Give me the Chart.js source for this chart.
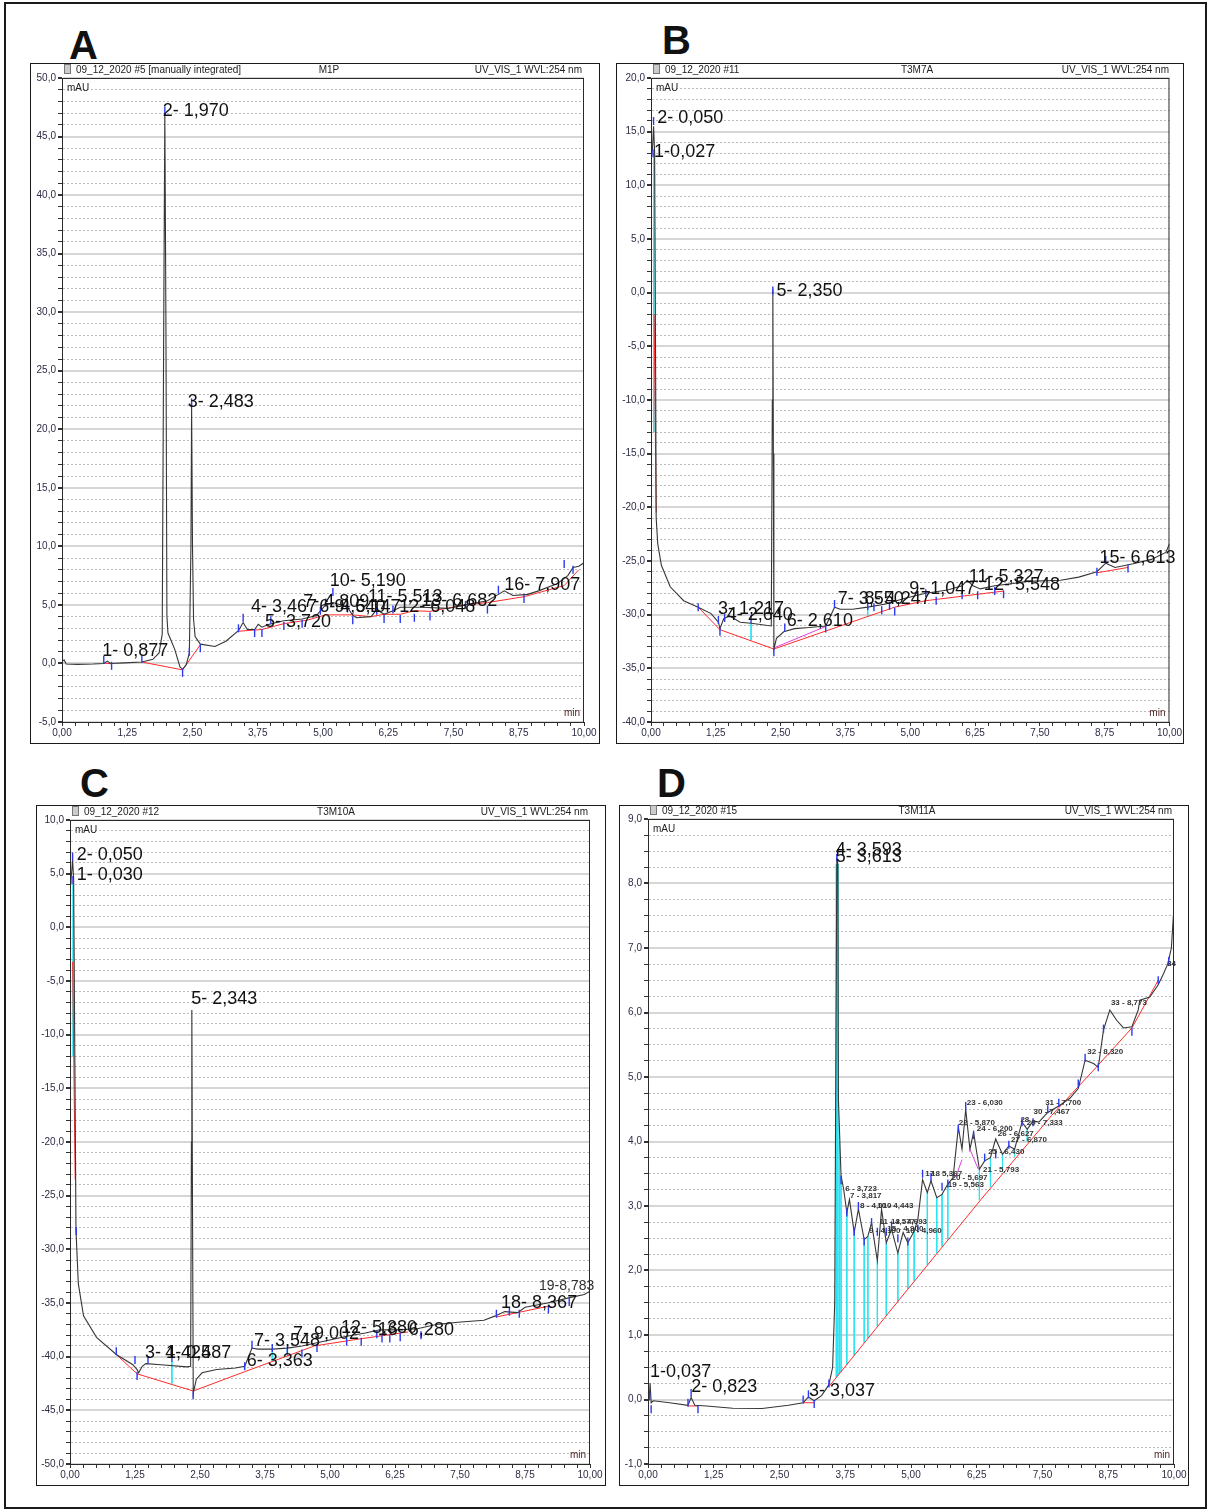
<!DOCTYPE html>
<html lang="en">
<head>
<meta charset="UTF-8" />
<title>UV 254 nm chromatograms A-D</title>
<script src="https://cdn.jsdelivr.net/npm/chart.js"></script>
<style>
  body { margin:0; width:1208px; height:1512px; background:#fff; position:relative; overflow:hidden;
         font-family:'Liberation Sans', Arial, sans-serif; }
  .outer { position:absolute; left:4px; top:2px; width:1199px; height:1503px; border:2px solid #1a1a1a; }
  .panel { position:absolute; border:1px solid #1a1a1a; box-sizing:border-box; }
  .panel canvas { position:absolute; left:0; top:0; }
  .letter { position:absolute; font:bold 40px 'Liberation Sans', Arial, sans-serif; line-height:40px; color:#111; }
  .hdr { position:absolute; font-size:10px; line-height:12px; color:#222; white-space:nowrap; }
  .icon { display:inline-block; width:5px; height:8px; border:1px solid #777; background:#ccc; margin-right:5px; vertical-align:-1px; }
</style>
</head>
<body>
<div class="outer"></div>
<div class="letter" style="left:69px;top:25px">A</div>
<div class="letter" style="left:662px;top:20px">B</div>
<div class="letter" style="left:80px;top:763px">C</div>
<div class="letter" style="left:657px;top:763px">D</div>
<div id="panels"></div>

<script>
// shared x axis (retention time, min)
const xTickLabels = ['0,00','1,25','2,50','3,75','5,00','6,25','7,50','8,75','10,00'];

// ---------- A : M1P ----------
const aYTickLabels = ['-5,0','0,0','5,0','10,0','15,0','20,0','25,0','30,0','35,0','40,0','45,0','50,0'];
const aTime   = [0.00,0.04,0.08,0.30,0.60,0.80,0.87,0.93,1.20,1.53,1.74,1.86,1.92,1.95,1.97,1.99,2.01,2.03,2.16,2.26,2.31,2.38,2.44,2.47,2.483,2.50,2.52,2.55,2.65,2.93,3.14,3.38,3.47,3.55,3.69,3.76,3.83,3.97,4.25,4.60,4.88,4.95,5.05,5.19,5.30,5.47,5.57,5.64,5.92,6.03,6.17,6.34,6.48,6.90,7.39,7.73,8.15,8.36,8.47,8.64,8.92,9.13,9.48,9.69,9.79,9.90,10.00];
const aSignal = [0.15,0.30,-0.05,-0.08,-0.05,0.00,0.20,0.00,0.05,0.12,0.35,0.90,2.5,30.0,47.0,30.0,4.0,2.6,1.2,-0.3,-0.5,-0.1,0.9,10.0,22.0,10.0,3.8,2.3,1.65,1.45,1.9,2.8,3.5,2.9,2.9,3.35,3.1,3.35,3.65,3.8,4.1,4.5,5.0,5.2,5.05,4.8,4.1,3.9,4.0,4.6,4.2,4.5,4.8,4.8,4.7,5.0,5.35,5.9,6.2,5.8,5.9,6.2,6.8,7.5,8.2,8.3,8.6];
const aBaseTime   = [0.80,0.95,null,1.53,2.31,2.65,null,3.38,3.83,4.25,4.70,5.05,5.57,5.92,6.17,6.48,6.75,7.05,7.73,8.15,8.85,9.62,9.90];
const aBaseSignal = [0.02,-0.02,null,0.12,-0.55,1.6,null,2.75,2.9,3.4,3.7,4.15,4.15,4.0,4.2,4.2,4.5,4.45,5.0,5.2,5.7,6.65,8.0];
const aMarkTime   = [0.80,0.95,1.53,1.97,2.31,2.44,2.483,2.65,3.38,3.47,3.69,3.83,4.00,4.25,4.60,4.95,5.05,5.19,5.47,5.57,6.03,6.17,6.34,6.48,6.75,7.05,7.73,8.15,8.36,8.85,9.62,9.79];
const aMarkSignal = [0.30,-0.20,0.40,47.2,-0.80,1.00,22.3,1.30,3.00,3.90,2.60,2.60,3.70,3.20,3.40,4.50,5.20,6.10,4.70,3.70,4.50,3.80,4.60,3.80,3.90,4.00,5.00,4.60,6.30,5.50,8.50,8.00];
const aPeakText   = ['1- 0,877','2- 1,970','3- 2,483','4- 3,467','5- 3,720','7- 4,809','6- 4,640','9- 5,147','10- 5,190','11- 5,513','12- 6,048','13- 6,682','16- 7,907'];
const aPeakTime   = [0.77,1.93,2.41,3.62,3.89,4.62,4.93,5.22,5.13,5.86,6.46,6.88,8.47];
const aPeakSignal = [0.64,46.75,21.9,4.4,3.1,4.85,4.4,4.4,6.6,5.25,4.4,4.9,6.27];

// ---------- B : T3M7A ----------
const bYTickLabels = ['-40,0','-35,0','-30,0','-25,0','-20,0','-15,0','-10,0','-5,0','0,0','5,0','10,0','15,0','20,0'];
const bTime   = [0.00,0.03,0.05,0.07,0.09,0.10,0.13,0.20,0.37,0.63,0.91,1.16,1.30,1.33,1.40,1.51,1.72,1.93,2.32,2.34,2.35,2.36,2.37,2.42,2.56,2.77,3.05,3.37,3.47,3.54,3.65,3.89,4.18,4.53,4.88,5.30,5.72,6.00,6.10,6.21,6.35,6.63,6.98,7.26,7.90,8.25,8.60,8.77,8.95,9.30,9.65,9.93,10.00];
const bSignal = [12.5,13.5,15.5,13.0,-8.0,-21.0,-23.4,-25.4,-27.4,-28.7,-29.3,-29.9,-30.7,-31.3,-30.4,-30.1,-30.7,-30.8,-31.05,-10.0,0.3,-15.0,-33.2,-32.2,-31.6,-31.3,-31.2,-31.05,-30.05,-29.3,-29.5,-29.5,-29.3,-29.0,-28.5,-28.0,-27.7,-27.3,-26.8,-27.3,-27.6,-27.3,-27.1,-26.9,-26.8,-26.5,-26.0,-25.2,-25.6,-25.25,-24.85,-24.2,-23.4];
const bBaseTime   = [0.06,0.10,null,0.91,1.33,2.37,4.70,5.30,6.30,6.80,null,8.60,9.20];
const bBaseSignal = [-2.0,-20.5,null,-29.3,-31.4,-33.2,-29.3,-28.7,-28.1,-27.8,null,-26.1,-25.6];
const bSideTime   = [2.37,3.37];
const bSideSignal = [-33.1,-31.1];
const bDropTime   = [0.055,1.93,4.18];
const bDropTop    = [13.0,-30.8,-29.3];
const bDropBottom = [-13.0,-32.4,-30.2];
const bMarkTime   = [0.04,0.05,0.91,1.30,1.33,1.42,1.93,2.35,2.37,2.58,3.37,3.54,4.18,4.30,4.45,4.60,4.70,5.30,5.50,6.00,6.30,6.63,6.80,8.60,8.77,9.20];
const bMarkSignal = [13.0,16.0,-29.3,-30.5,-31.6,-30.3,-30.4,0.2,-33.5,-31.2,-31.3,-29.0,-29.2,-29.3,-29.6,-29.2,-29.7,-28.0,-28.7,-28.2,-28.2,-27.8,-28.1,-26.0,-24.9,-25.7];
const bPeakText   = ['2- 0,050','1-0,027','5- 2,350','3- 1,217','4- 2,640','6- 2,610','7- 3,550','8- 4,247','9- 1,047','11- 5,327','12- 5,548','15- 6,613'];
const bPeakTime   = [0.12,0.06,2.42,1.29,1.46,2.62,3.60,4.12,4.98,6.13,6.42,8.65];
const bPeakSignal = [15.8,12.66,-0.3,-29.9,-30.5,-31.05,-29.0,-29.0,-28.1,-27.0,-27.7,-25.2];

// ---------- C : T3M10A ----------
const cYTickLabels = ['-50,0','-45,0','-40,0','-35,0','-30,0','-25,0','-20,0','-15,0','-10,0','-5,0','0,0','5,0','10,0'];
const cTime   = [0.00,0.03,0.05,0.07,0.09,0.115,0.16,0.26,0.51,0.89,1.21,1.29,1.32,1.39,1.46,1.75,2.25,2.32,2.335,2.343,2.355,2.37,2.43,2.54,2.82,3.18,3.36,3.50,3.61,3.89,4.18,4.46,4.75,5.04,5.32,5.68,5.96,6.32,6.68,7.04,7.46,7.96,8.18,8.36,8.61,8.75,9.18,9.61,9.89,10.00];
const cSignal = [4.0,5.0,6.3,4.5,-10.0,-28.2,-33.2,-36.2,-38.2,-39.8,-40.75,-41.2,-41.5,-40.9,-40.65,-40.75,-40.95,-40.9,-20.0,-7.7,-25.0,-43.4,-42.1,-41.5,-41.2,-41.05,-40.9,-39.2,-39.3,-39.3,-39.2,-39.0,-38.7,-38.4,-38.1,-37.8,-37.5,-37.5,-37.4,-37.0,-36.8,-36.6,-36.2,-35.8,-35.9,-35.4,-35.0,-34.5,-34.2,-33.9];
const cBaseTime   = [0.05,0.10,null,0.89,1.29,2.37,3.36,4.70,5.50,6.50,null,8.20,9.20];
const cBaseSignal = [-3.2,-23.5,null,-39.8,-41.6,-43.2,-41.4,-39.0,-38.4,-37.7,null,-36.3,-35.3];
const cDropTime   = [0.06,1.96,3.89,4.18];
const cDropTop    = [4.0,-40.4,-39.3,-39.2];
const cDropBottom = [-12.0,-42.5,-40.4,-39.9];
const cMarkTime   = [0.04,0.05,0.12,0.89,1.25,1.29,1.50,1.96,2.37,3.36,3.50,3.89,4.18,4.46,4.75,5.32,5.60,5.90,6.00,6.15,6.35,6.75,8.20,8.45,8.64,9.20,9.60];
const cMarkSignal = [4.4,6.6,-28.3,-39.5,-40.3,-41.8,-40.3,-40.1,-43.6,-40.9,-38.9,-39.2,-39.4,-39.7,-39.2,-38.6,-38.6,-37.9,-38.3,-38.3,-38.2,-38.0,-36.0,-35.8,-36.0,-35.6,-34.9];
const cPeakText   = ['2- 0,050','1- 0,030','5- 2,343','3- 1,425','4- 0,487','6- 3,363','7- 3,548','7- 9,002','12- 5,380','16- 6,280','18- 8,367'];
const cPeakTime   = [0.13,0.13,2.33,1.44,1.83,3.40,3.54,4.29,5.21,5.92,8.29];
const cPeakSignal = [6.3,4.4,-7.1,-40.1,-40.1,-40.9,-39.0,-38.4,-37.8,-38.0,-35.5];
const cSmallText   = ['19-8,783'];
const cSmallTime   = [9.02];
const cSmallSignal = [-33.8];

// ---------- D : T3M11A ----------
const dYTickLabels = ['-1,0','0,0','1,0','2,0','3,0','4,0','5,0','6,0','7,0','8,0','9,0'];
const dTime   = [0.00,0.03,0.04,0.06,0.10,0.41,0.76,0.82,0.89,1.11,1.61,2.17,2.67,2.95,3.05,3.16,3.30,3.44,3.51,3.55,3.57,3.59,3.61,3.62,3.67,3.72,3.78,3.83,3.92,4.00,4.11,4.18,4.25,4.36,4.44,4.53,4.63,4.75,4.85,4.94,5.06,5.13,5.22,5.31,5.38,5.49,5.59,5.70,5.80,5.90,5.97,6.04,6.12,6.19,6.30,6.40,6.51,6.61,6.74,6.86,6.97,7.11,7.21,7.32,7.43,7.60,7.81,8.02,8.18,8.31,8.47,8.56,8.66,8.78,8.91,9.04,9.20,9.32,9.35,9.54,9.70,9.80,9.88,9.95,10.00];
const dSignal = [0.00,0.10,0.25,-0.05,-0.02,-0.05,-0.09,0.03,-0.09,-0.10,-0.135,-0.14,-0.09,-0.05,0.04,-0.02,0.06,0.23,0.50,1.50,5.0,8.40,8.30,4.66,3.47,3.26,2.90,3.10,2.59,2.95,2.48,2.53,2.74,2.15,2.95,2.43,2.64,2.27,2.59,2.43,2.61,2.79,3.41,3.21,3.39,3.13,3.18,3.34,3.44,4.22,3.88,4.50,3.88,4.14,3.57,3.70,3.75,4.04,3.80,3.93,3.88,4.30,4.19,4.32,4.30,4.45,4.55,4.67,4.82,5.26,5.21,5.15,5.73,6.04,5.88,5.76,5.78,6.04,6.19,6.24,6.43,6.60,6.75,7.00,7.65];
const dBaseTime   = [0.76,0.95,null,2.95,3.16,null,3.44,4.78,6.33,7.67,8.52,9.20,9.70];
const dBaseSignal = [-0.10,-0.10,null,-0.05,-0.05,null,0.20,1.55,3.10,4.40,5.15,5.76,6.50];
const dSideTime   = [5.85,5.97,null,6.12,6.28];
const dSideSignal = [3.45,3.72,null,3.88,3.57];
const dDropTime   = [3.58,3.61,3.64,3.67,3.78,3.92,4.11,4.18,4.36,4.53,4.75,4.94,5.06,5.31,5.49,5.59,5.70,6.30,6.51,6.74,6.97,7.21];
const dDropTop    = [8.30,8.30,4.00,3.47,2.90,2.59,2.48,2.53,2.15,2.43,2.27,2.43,2.61,3.21,3.13,3.18,3.34,3.57,3.75,3.80,3.88,4.19];
const dDropBottom = [0.34,0.37,0.40,0.43,0.54,0.68,0.88,0.95,1.13,1.30,1.52,1.72,1.84,2.09,2.27,2.37,2.48,3.09,3.30,3.53,3.77,4.00];
const dMarkTime   = [0.03,0.06,0.76,0.82,0.95,2.95,3.05,3.16,3.44,3.59,3.67,3.78,3.92,4.00,4.11,4.25,4.36,4.53,4.63,4.75,4.94,5.13,5.22,5.38,5.59,5.70,5.90,6.04,6.19,6.40,6.61,6.86,7.11,7.32,7.60,7.81,8.18,8.31,8.56,8.66,9.20,9.70,9.90];
const dMarkSignal = [0.05,-0.15,-0.05,0.10,-0.15,0.00,0.08,-0.07,0.25,8.40,3.40,2.90,2.60,3.00,2.45,2.75,2.60,2.60,2.70,2.50,2.45,2.65,3.50,3.45,3.30,3.35,4.20,4.55,4.10,3.75,3.80,3.95,4.30,4.30,4.50,4.60,4.90,5.30,5.15,5.75,5.70,6.50,6.80];
const dPeakText   = ['4- 3,593','5- 3,613','1-0,037','2- 0,823','3- 3,037'];
const dPeakTime   = [3.57,3.57,0.04,0.82,3.06];
const dPeakSignal = [8.44,8.33,0.35,0.12,0.05];
const dSmallText   = ['6 - 3,723','7 - 3,817','8 - 4,010','10 - 4,443','9 - 4,190','11 - 4,577','13 - 4,693','15 - 4,900','16 - 4,960','17','18 5,367','19 - 5,563','20 - 5,697','21 - 5,793','22 - 5,870','23 - 6,030','24 - 6,200','25 - 6,430','26 - 6,627','27 - 6,870','28','29 - 7,333','30 - 7,467','31 - 7,700','32 - 8,320','33 - 8,773','34'];
const dSmallTime   = [3.75,3.84,4.03,4.36,4.20,4.40,4.62,4.55,4.90,5.27,5.38,5.70,5.77,6.37,5.91,6.06,6.25,6.47,6.65,6.90,7.08,7.20,7.33,7.55,8.35,8.80,9.87];
const dSmallSignal = [3.23,3.12,2.97,2.97,2.58,2.72,2.72,2.62,2.58,3.47,3.47,3.30,3.41,3.52,4.25,4.56,4.17,3.80,4.08,4.00,4.30,4.25,4.42,4.57,5.36,6.12,6.72];

const zip = (xs, ys) => xs.map((x, i) => ({ x: x, y: ys[i] }));
const drops = (ts, top, bot) => ts.flatMap((t, i) => [{ x: t, y: top[i] }, { x: t, y: bot[i] }, { x: null, y: null }]);
const num = s => parseFloat(s.replace(',', '.'));

// peak annotations placed through the chart scales
const peakLabels = {
  id: 'peakLabels',
  afterDatasetsDraw(chart, args, o) {
    const { ctx, scales: { x, y } } = chart;
    ctx.save();
    ctx.textBaseline = 'alphabetic';
    ctx.fillStyle = '#111';
    ctx.font = '18px "Liberation Sans", Arial, sans-serif';
    o.text.forEach((s, i) => ctx.fillText(s, x.getPixelForValue(o.time[i]), y.getPixelForValue(o.signal[i])));
    ctx.fillStyle = '#333';
    ctx.font = o.smallFont;
    (o.smallText || []).forEach((s, i) => ctx.fillText(s, x.getPixelForValue(o.smallTime[i]), y.getPixelForValue(o.smallSignal[i])));
    ctx.restore();
  }
};

// plot box, mAU / min captions
const plotBox = {
  id: 'plotBox',
  afterDraw(chart) {
    const { ctx, chartArea: a } = chart;
    ctx.save();
    ctx.strokeStyle = '#2a2a2a';
    ctx.lineWidth = 1;
    ctx.strokeRect(a.left + 0.5, a.top + 0.5, a.right - a.left - 1, a.bottom - a.top);
    ctx.font = '10px "Liberation Sans", Arial, sans-serif';
    ctx.fillStyle = '#222';
    ctx.textBaseline = 'middle';
    ctx.fillText('mAU', a.left + 5, a.top + 10);
    ctx.fillStyle = '#4a1e1e';
    ctx.textAlign = 'right';
    ctx.fillText('min', a.right - 4, a.bottom - 9);
    ctx.restore();
  }
};

function drawPanel(p) {
  const f = p.frame, pl = p.plot;
  const wrap = document.createElement('div');
  wrap.className = 'panel';
  Object.assign(wrap.style, { left: f.x + 'px', top: f.y + 'px', width: f.w + 'px', height: f.h + 'px' });
  const cv = document.createElement('canvas');
  const cw = f.w - 2, ch = f.h - 2;
  cv.width = cw; cv.height = ch;
  cv.style.width = cw + 'px'; cv.style.height = ch + 'px';
  wrap.appendChild(cv);
  document.getElementById('panels').appendChild(wrap);

  // header row
  const hy = pl.y0 - 14;
  const mk = (html, css) => { const d = document.createElement('div'); d.className = 'hdr'; d.innerHTML = html; Object.assign(d.style, css); document.body.appendChild(d); };
  mk('<span class="icon"></span>' + p.run, { left: (pl.x0 + 2) + 'px', top: hy + 'px' });
  mk(p.sample, { left: ((pl.x0 + pl.x1) / 2 + 6) + 'px', top: hy + 'px', transform: 'translateX(-50%)' });
  mk('UV_VIS_1 WVL:254 nm', { left: pl.x1 + 'px', top: hy + 'px', transform: 'translateX(-100%)', paddingRight: '2px' });

  const padL = pl.x0 - (f.x + 1), padT = pl.y0 - (f.y + 1);
  const padR = (f.x + f.w - 1) - pl.x1, padB = (f.y + f.h - 1) - pl.y1;

  const yMaj = p.yTickLabels.map(num);
  const yTicks = [];
  for (let v = yMaj[0]; v <= yMaj[yMaj.length - 1] + 1e-9; v += p.yMinor) yTicks.push(Math.round(v * 100) / 100);
  const yIdx = v => yMaj.findIndex(m => Math.abs(m - v) < 1e-6);
  const xMaj = xTickLabels.map(num);
  const xTicks = [];
  for (let v = 0; v <= 10 + 1e-9; v += 0.25) xTicks.push(Math.round(v * 100) / 100);
  const xIdx = v => xMaj.findIndex(m => Math.abs(m - v) < 1e-6);

  const tickFont = { family: '"Liberation Sans", Arial, sans-serif', size: 10 };
  const isMajor = c => c.tick && yIdx(c.tick.value) >= 0;

  new Chart(cv, {
    type: 'line',
    data: {
      datasets: [
        { data: zip(p.markTime, p.markSignal), showLine: false, pointStyle: 'line', rotation: 90,
          pointRadius: 4, pointBorderColor: '#2b3af0', pointBorderWidth: 1.4 },
        { data: zip(p.time, p.signal), borderColor: '#363636', borderWidth: 1.1, pointRadius: 0 },
        { data: zip(p.sideTime || [], p.sideSignal || []), borderColor: '#e23ee2', borderWidth: 1, pointRadius: 0 },
        { data: zip(p.baseTime, p.baseSignal), borderColor: '#ff2b2b', borderWidth: 1, pointRadius: 0 },
        { data: drops(p.dropTime || [], p.dropTop || [], p.dropBottom || []), borderColor: '#28e4f2', borderWidth: 1, pointRadius: 0 }
      ]
    },
    options: {
      responsive: false,
      animation: false,
      events: [],
      layout: { padding: { top: padT, right: padR, left: 0, bottom: 0 } },
      plugins: {
        legend: { display: false },
        tooltip: { enabled: false },
        peakLabels: { text: p.peakText, time: p.peakTime, signal: p.peakSignal,
                      smallText: p.smallText, smallTime: p.smallTime, smallSignal: p.smallSignal, smallFont: p.smallFont }
      },
      scales: {
        x: {
          type: 'linear', min: 0, max: 10,
          afterBuildTicks: s => { s.ticks = xTicks.map(v => ({ value: v })); },
          afterFit: s => { s.height = padB; },
          ticks: { autoSkip: false, maxRotation: 0, padding: 1, color: '#2c2c44', font: tickFont,
                   callback: v => { const i = xIdx(v); return i < 0 ? '' : xTickLabels[i]; } },
          grid: { drawOnChartArea: false, tickLength: 4, tickColor: '#333' },
          border: { color: '#2a2a2a' }
        },
        y: {
          type: 'linear', min: yMaj[0], max: yMaj[yMaj.length - 1],
          afterBuildTicks: s => { s.ticks = yTicks.map(v => ({ value: v })); },
          afterFit: s => { s.width = padL; },
          ticks: { autoSkip: false, padding: 2, color: '#2c2c44', font: tickFont,
                   callback: v => { const i = yIdx(v); return i < 0 ? '' : p.yTickLabels[i]; } },
          grid: { color: c => isMajor(c) ? '#d6d6d6' : '#bcbcbc',
                  lineWidth: c => isMajor(c) ? 2 : 1, tickLength: 4, tickColor: '#333' },
          border: { color: '#2a2a2a', dash: c => (c.tick && yIdx(c.tick.value) < 0) ? [2, 2] : [] }
        }
      }
    },
    plugins: [peakLabels, plotBox]
  });
}

drawPanel({
  frame: { x: 30, y: 63, w: 570, h: 681 }, plot: { x0: 62, y0: 78, x1: 584, y1: 722 },
  run: '09_12_2020 #5 [manually integrated]', sample: 'M1P',
  yTickLabels: aYTickLabels, yMinor: 1,
  time: aTime, signal: aSignal, baseTime: aBaseTime, baseSignal: aBaseSignal,
  markTime: aMarkTime, markSignal: aMarkSignal,
  peakText: aPeakText, peakTime: aPeakTime, peakSignal: aPeakSignal
});
drawPanel({
  frame: { x: 616, y: 63, w: 568, h: 681 }, plot: { x0: 651, y0: 78, x1: 1171, y1: 722 },
  run: '09_12_2020 #11', sample: 'T3M7A',
  yTickLabels: bYTickLabels, yMinor: 1,
  time: bTime, signal: bSignal, baseTime: bBaseTime, baseSignal: bBaseSignal,
  sideTime: bSideTime, sideSignal: bSideSignal,
  dropTime: bDropTime, dropTop: bDropTop, dropBottom: bDropBottom,
  markTime: bMarkTime, markSignal: bMarkSignal,
  peakText: bPeakText, peakTime: bPeakTime, peakSignal: bPeakSignal
});
drawPanel({
  frame: { x: 36, y: 805, w: 570, h: 681 }, plot: { x0: 70, y0: 820, x1: 590, y1: 1464 },
  run: '09_12_2020 #12', sample: 'T3M10A',
  yTickLabels: cYTickLabels, yMinor: 1,
  time: cTime, signal: cSignal, baseTime: cBaseTime, baseSignal: cBaseSignal,
  dropTime: cDropTime, dropTop: cDropTop, dropBottom: cDropBottom,
  markTime: cMarkTime, markSignal: cMarkSignal,
  peakText: cPeakText, peakTime: cPeakTime, peakSignal: cPeakSignal,
  smallText: cSmallText, smallTime: cSmallTime, smallSignal: cSmallSignal,
  smallFont: '14px "Liberation Sans", Arial, sans-serif'
});
drawPanel({
  frame: { x: 619, y: 805, w: 570, h: 681 }, plot: { x0: 648, y0: 819, x1: 1174, y1: 1464 },
  run: '09_12_2020 #15', sample: 'T3M11A',
  yTickLabels: dYTickLabels, yMinor: 0.25,
  time: dTime, signal: dSignal, baseTime: dBaseTime, baseSignal: dBaseSignal,
  sideTime: dSideTime, sideSignal: dSideSignal,
  dropTime: dDropTime, dropTop: dDropTop, dropBottom: dDropBottom,
  markTime: dMarkTime, markSignal: dMarkSignal,
  peakText: dPeakText, peakTime: dPeakTime, peakSignal: dPeakSignal,
  smallText: dSmallText, smallTime: dSmallTime, smallSignal: dSmallSignal,
  smallFont: 'bold 8px "Liberation Sans", Arial, sans-serif'
});
</script>
</body>
</html>
